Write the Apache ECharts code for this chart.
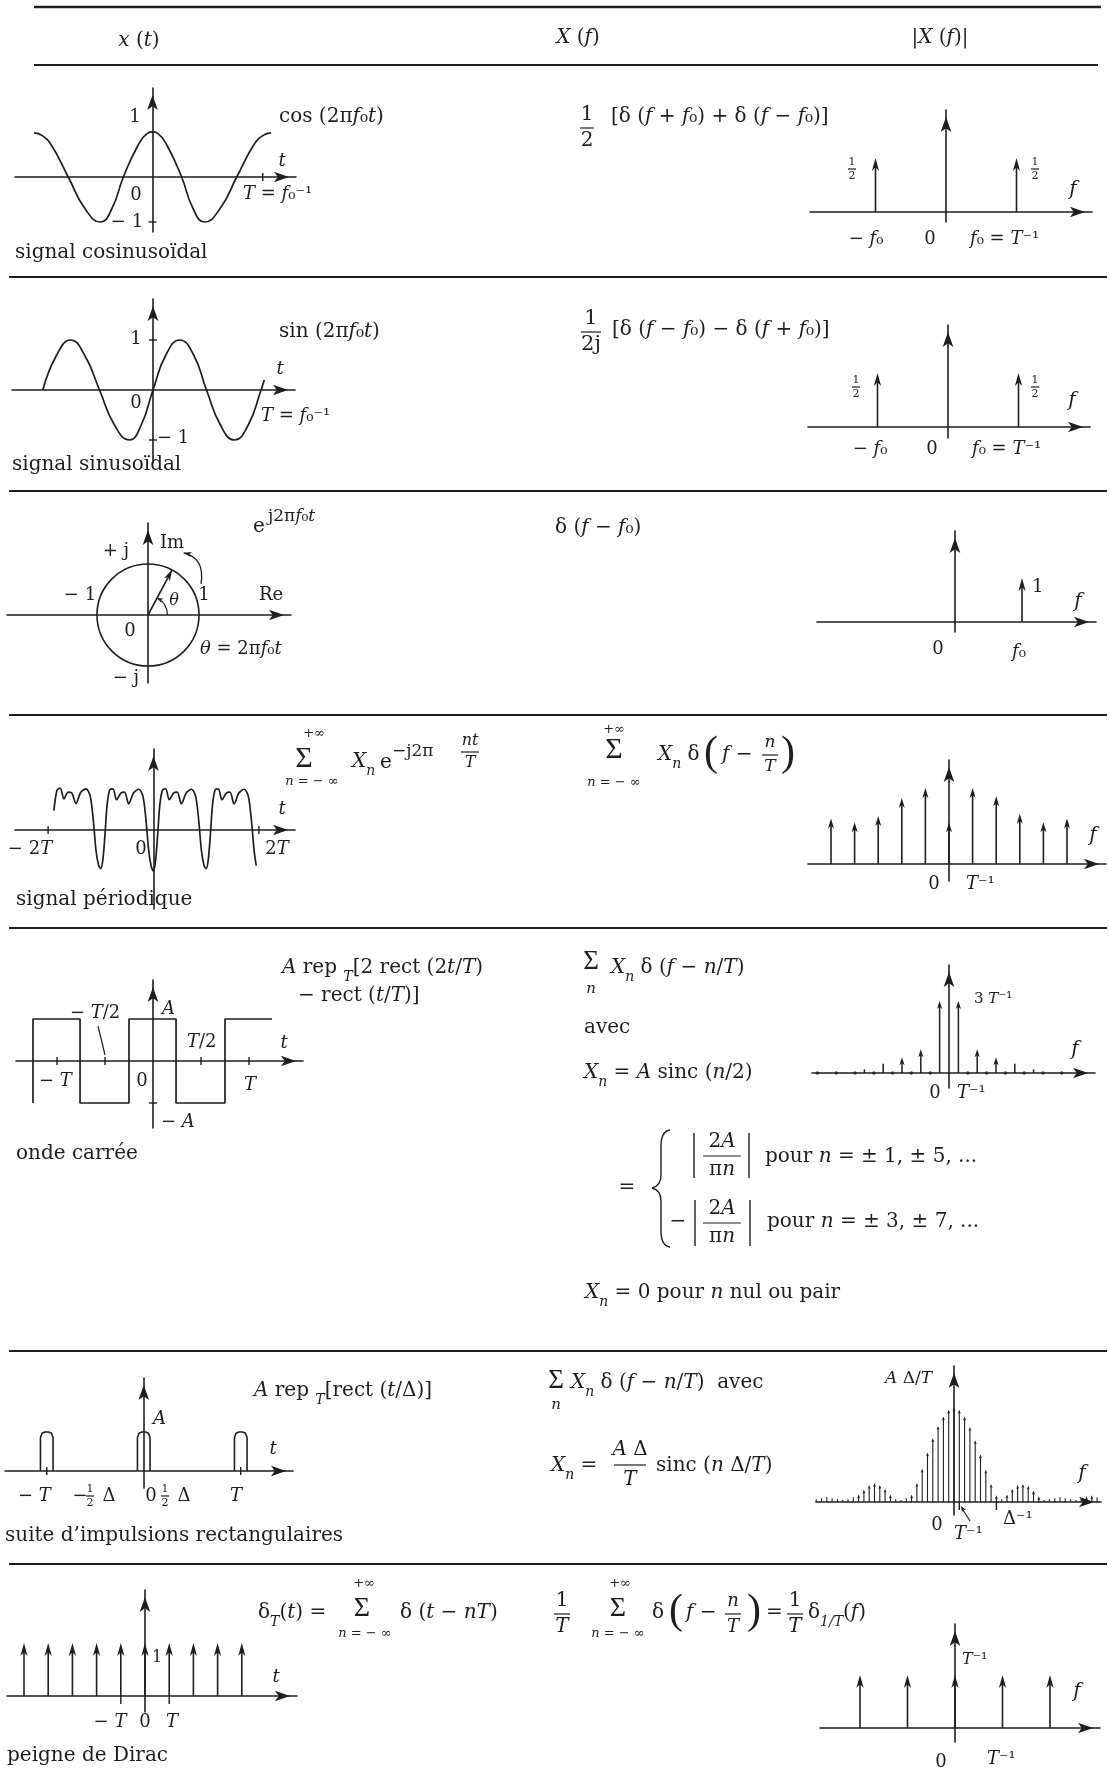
<!DOCTYPE html>
<html>
<head>
<meta charset="utf-8">
<title>Transformées de Fourier usuelles</title>
<script src="https://cdn.jsdelivr.net/npm/echarts@6/dist/echarts.min.js"></script>
<style>
  html, body { margin: 0; padding: 0; background: #fff; }
  #main { width: 1109px; height: 1771px; }
</style>
</head>
<body>
<div id="main"></div>
<script>
var INK = '#1e1e1e';
var FONT = 'DejaVu Serif';

// ---- values read off the table (time in periods T, frequency in steps of 1/T) ----
// row 1 : cosinus
var cosT = [-1.14, -1.06, -0.97, -0.81, -0.65, -0.5, -0.39, -0.28, -0.14, -0.05, 0, 0.05, 0.14, 0.28, 0.39, 0.5, 0.65, 0.81, 0.97, 1.06, 1.14];
var cosV = [0.98, 0.92, 0.7, 0, -0.7, -1, -0.7, 0, 0.7, 0.97, 1, 0.97, 0.7, 0, -0.7, -1, -0.7, 0, 0.7, 0.92, 0.98];
var cosXTicks = [1.06];
var cosYTicks = [1, -1];
var cosSpecF = [-1, 1];
var cosSpecH = [0.5, 0.5];

// row 2 : sinus
var sinT = [-1.03, -0.9, -0.77, -0.64, -0.5, -0.36, -0.22, -0.11, 0, 0.12, 0.25, 0.38, 0.5, 0.63, 0.76, 0.89, 1.01, 1.04];
var sinV = [0, 0.7, 1, 0.7, 0, -0.7, -1, -0.7, 0, 0.7, 1, 0.7, 0, -0.7, -1, -0.7, 0, 0.2];
var sinYTicks = [1, -1];
var sinSpecF = [-1, 1];
var sinSpecH = [0.5, 0.5];

// row 3 : exponentielle complexe
var circleR = 1;
var phasorTip = [0.47, 0.88];
var thetaArcR = 0.38;
var rotArrow = [[0.7, 1.22], [1.12, 1.12], [1.04, 0.61]];
var expSpecF = [1];
var expSpecH = [1];

// row 4 : signal periodique
var perT = [-1.89, -1.83, -1.77, -1.70, -1.62, -1.55, -1.47, -1.38, -1.28, -1.20, -1.14, -1.09, -1.04, -1.00,
  -0.96, -0.92, -0.88, -0.83, -0.77, -0.70, -0.62, -0.55, -0.47, -0.38, -0.28, -0.20, -0.14, -0.09, -0.04, 0.00,
  0.04, 0.08, 0.12, 0.17, 0.23, 0.30, 0.38, 0.45, 0.53, 0.62, 0.72, 0.80, 0.86, 0.91, 0.96, 1.00,
  1.04, 1.08, 1.12, 1.17, 1.23, 1.30, 1.38, 1.45, 1.53, 1.62, 1.72, 1.80, 1.86, 1.91, 1.95];
var perV = [0.46, 0.95, 1.0, 0.74, 0.9, 0.88, 0.63, 0.9, 0.98, 0.8, 0.2, -0.5, -0.85, -0.92,
  -0.7, -0.1, 0.6, 0.96, 0.98, 0.72, 0.88, 0.9, 0.62, 0.88, 0.97, 0.8, 0.2, -0.5, -0.88, -0.98,
  -0.72, -0.1, 0.6, 0.95, 0.98, 0.72, 0.88, 0.9, 0.62, 0.88, 0.97, 0.8, 0.2, -0.5, -0.85, -0.92,
  -0.7, -0.1, 0.6, 0.96, 0.98, 0.72, 0.88, 0.9, 0.62, 0.88, 0.97, 0.8, 0.2, -0.5, -0.85];
var perXTicks = [-2, 2];
var perSpecN = [-5, -4, -3, -2, -1, 0, 1, 2, 3, 4, 5];
var perSpecH = [0.6, 0.55, 0.63, 0.87, 1.0, 0.55, 1.0, 0.89, 0.66, 0.55, 0.6];

// row 5 : onde carree
var sqT = [-1.25, -1.25, -0.76, -0.76, -0.25, -0.25, 0.24, 0.24, 0.75, 0.75, 1.24];
var sqV = [-1, 1, 1, -1, -1, 1, 1, -1, -1, 1, 1];
var sqXTicks = [-1, -0.5, 0.5, 1];
var sqYTicks = [-1];
var sqSpecN = [-9, -7, -5, -3, -1, 1, 3, 5, 7, 9];
var sqSpecH = [0.05, 0.13, 0.22, 0.33, 1, 1, 0.33, 0.22, 0.13, 0.05];
var sqZeroN = [-14, -12, -10, -8, -6, -4, -2, 2, 4, 6, 8, 10, 12, 14];

// row 6 : suite d'impulsions rectangulaires
var pulseC = [-1, 0, 1];
var pulseHalf = 0.065;
var pulseXTicks = [-1, 1];
var rectSpecN = [-26, -25, -24, -23, -22, -21, -20, -19, -18, -17, -16, -15, -14, -13, -12, -11, -10, -9, -8, -7, -6, -5, -4, -3, -2, -1,
  0, 1, 2, 3, 4, 5, 6, 7, 8, 9, 10, 11, 12, 13, 14, 15, 16, 17, 18, 19, 20, 21, 22, 23, 24, 25, 26, 27];
var rectSpecH = [0.03, 0.04, 0.05, 0.04, 0.03, 0.02, 0.03, 0.05, 0.08, 0.13, 0.18, 0.2, 0.18, 0.14, 0.08, 0.03, 0.02, 0.04, 0.08, 0.2, 0.35, 0.52, 0.67, 0.8, 0.9, 0.97,
  1, 0.97, 0.9, 0.79, 0.65, 0.5, 0.34, 0.19, 0.07, 0.03, 0.08, 0.14, 0.18, 0.19, 0.17, 0.12, 0.06, 0.02, 0.03, 0.04, 0.05, 0.04, 0.03, 0.02, 0.04, 0.06, 0.07, 0.05];
var rectSpecTicks = [1, 8];

// row 7 : peigne de Dirac
var combT = [-5, -4, -3, -2, -1, 0, 1, 2, 3, 4];
var combH = [1, 1, 1, 1, 1, 1, 1, 1, 1, 1];
var combXTicks = [-1, 1];
var combSpecF = [-2, -1, 0, 1, 2];
var combSpecH = [1, 1, 1, 1, 1];

// ---- plots ----
var grids = [], xAxes = [], yAxes = [], series = [];

function axisLine() {
  return { onZero: true, symbol: ['none', 'arrow'], symbolSize: [8, 15], symbolOffset: [0, -7], lineStyle: { color: INK, width: 1.6 } };
}
// box = [left, top, right, bottom] in px, origin = px of (0,0), unit = px per data unit
function addPlot(box, origin, unit) {
  var i = grids.length;
  grids.push({ left: box[0], top: box[1], width: box[2] - box[0], height: box[3] - box[1], containLabel: false, outerBoundsMode: 'none' });
  xAxes.push({ type: 'value', gridIndex: i, min: (box[0] - origin[0]) / unit[0], max: (box[2] - origin[0]) / unit[0],
    axisLine: axisLine(), axisTick: { show: false }, axisLabel: { show: false }, splitLine: { show: false } });
  yAxes.push({ type: 'value', gridIndex: i, min: (origin[1] - box[3]) / unit[1], max: (origin[1] - box[1]) / unit[1],
    axisLine: axisLine(), axisTick: { show: false }, axisLabel: { show: false }, splitLine: { show: false } });
  return i;
}

function dart(tip, from, len, half) {
  var dx = tip[0] - from[0], dy = tip[1] - from[1];
  var d = Math.sqrt(dx * dx + dy * dy) || 1;
  var ux = dx / d, uy = dy / d, nx = -uy, ny = ux;
  var bx = tip[0] - ux * len, by = tip[1] - uy * len;
  return { type: 'polygon', shape: { points: [tip, [bx + nx * half, by + ny * half], [tip[0] - ux * len * 0.72, tip[1] - uy * len * 0.72], [bx - nx * half, by - ny * half]] }, style: { fill: INK } };
}

function curve(g, xs, ys, smooth) {
  series.push({ type: 'line', xAxisIndex: g, yAxisIndex: g, silent: true, showSymbol: false, smooth: smooth, z: 3,
    data: xs.map(function (x, k) { return [x, ys[k]]; }),
    lineStyle: { color: INK, width: 1.7 } });
}

function stems(g, xs, hs, st) {
  series.push({ type: 'custom', xAxisIndex: g, yAxisIndex: g, silent: true, clip: false, z: 4,
    data: xs.map(function (x, k) { return [x, hs[k]]; }),
    renderItem: function (params, api) {
      var p0 = api.coord([api.value(0), 0]);
      var p1 = api.coord([api.value(0), api.value(1)]);
      var withHead = st.len && (p0[1] - p1[1]) > st.len * 1.3;
      var kids = [{ type: 'line', shape: { x1: p0[0], y1: p0[1], x2: p1[0], y2: p1[1] + (withHead ? st.len * 0.5 : 0) },
        style: { stroke: INK, lineWidth: st.w || 1.6 } }];
      if (withHead) kids.push(dart(p1, [p1[0], p1[1] + 10], st.len, st.half));
      return { type: 'group', children: kids };
    } });
}

function ticks(g, xs, ys, down) {
  var data = [];
  xs.forEach(function (x) { data.push([x, 0, 0]); });
  ys.forEach(function (y) { data.push([0, y, 1]); });
  series.push({ type: 'custom', xAxisIndex: g, yAxisIndex: g, silent: true, clip: false, z: 4, data: data,
    renderItem: function (params, api) {
      var p = api.coord([api.value(0), api.value(1)]);
      var sh = api.value(2) === 0
        ? { x1: p[0], y1: p[1] - (down ? 0 : 4), x2: p[0], y2: p[1] + (down ? 8 : 4) }
        : { x1: p[0] - 4, y1: p[1], x2: p[0] + 4, y2: p[1] };
      return { type: 'line', shape: sh, style: { stroke: INK, lineWidth: 1.4 } };
    } });
}

var headBig = { w: 1.6, len: 13, half: 3.6 };
var headMid = { w: 1.6, len: 10, half: 3 };

// row 1
var g0 = addPlot([15, 88, 296, 232], [152.5, 177], [104, 45]);
curve(g0, cosT, cosV, 0.5);
ticks(g0, cosXTicks, cosYTicks);
var g1 = addPlot([810, 110, 1092, 222], [946, 212], [70.5, 108]);
stems(g1, cosSpecF, cosSpecH, headBig);

// row 2
var g2 = addPlot([12, 299, 295, 463], [153, 390], [107, 50]);
curve(g2, sinT, sinV, 0.5);
ticks(g2, [], sinYTicks);
var g3 = addPlot([808, 325, 1090, 438], [948, 427], [70.5, 108]);
stems(g3, sinSpecF, sinSpecH, headBig);

// row 3
var g4 = addPlot([7, 523, 291, 683], [148, 615], [51, 51]);
series.push({ type: 'custom', xAxisIndex: g4, yAxisIndex: g4, silent: true, clip: false, z: 4, data: [[0, 0]],
  renderItem: function (params, api) {
    var c = api.coord([0, 0]);
    var r = api.size([circleR, 0])[0];
    var tip = api.coord(phasorTip);
    var ar = api.size([thetaArcR, 0])[0];
    var ang = Math.atan2(c[1] - tip[1], tip[0] - c[0]);
    var ae = [c[0] + ar * Math.cos(ang), c[1] - ar * Math.sin(ang)];
    var aFrom = [ae[0] + 6 * Math.sin(ang), ae[1] + 6 * Math.cos(ang)];
    var a0 = api.coord(rotArrow[0]), a1 = api.coord(rotArrow[1]), a2 = api.coord(rotArrow[2]);
    return { type: 'group', children: [
      { type: 'circle', shape: { cx: c[0], cy: c[1], r: r }, style: { fill: 'none', stroke: INK, lineWidth: 1.6 } },
      { type: 'line', shape: { x1: c[0], y1: c[1], x2: tip[0], y2: tip[1] }, style: { stroke: INK, lineWidth: 1.6 } },
      dart(tip, c, 11, 3.4),
      { type: 'arc', shape: { cx: c[0], cy: c[1], r: ar, startAngle: -ang, endAngle: 0, clockwise: true }, style: { fill: 'none', stroke: INK, lineWidth: 1.2 } },
      dart(ae, aFrom, 6, 2.4),
      { type: 'bezierCurve', shape: { x1: a2[0], y1: a2[1], cpx1: a1[0], cpy1: a1[1], x2: a0[0], y2: a0[1] }, style: { fill: 'none', stroke: INK, lineWidth: 1.3 } },
      dart(a0, a1, 8, 2.6)
    ] };
  } });
var g5 = addPlot([817, 531, 1096, 632], [955, 622], [67, 44]);
stems(g5, expSpecF, expSpecH, headBig);

// row 4
var g6 = addPlot([15, 749, 295, 909], [153.5, 830], [52.7, 42]);
curve(g6, perT, perV, 0.3);
ticks(g6, perXTicks, []);
var g7 = addPlot([808, 760, 1106, 881], [949, 864], [23.6, 76]);
stems(g7, perSpecN, perSpecH, headMid);

// row 5
var g8 = addPlot([16, 980, 303, 1128], [153, 1061], [96, 42]);
curve(g8, sqT, sqV, false);
ticks(g8, sqXTicks, sqYTicks);
var g9 = addPlot([812, 965, 1095, 1088], [949, 1073], [9.4, 72]);
stems(g9, sqSpecN, sqSpecH, { w: 1.5, len: 8, half: 2.6 });
series.push({ type: 'scatter', xAxisIndex: g9, yAxisIndex: g9, silent: true, symbolSize: 3.5, itemStyle: { color: INK },
  data: sqZeroN.map(function (n) { return [n, 0]; }) });

// row 6
var g10 = addPlot([5, 1378, 293, 1488], [143.75, 1471], [97, 39]);
pulseC.forEach(function (c) {
  var w = pulseHalf;
  series.push({ type: 'line', xAxisIndex: g10, yAxisIndex: g10, silent: true, showSymbol: false, z: 3,
    data: [[c - w, 0], [c - w, 0.86], [c - w * 0.75, 0.97], [c - w * 0.3, 1], [c + w * 0.3, 1], [c + w * 0.75, 0.97], [c + w, 0.86], [c + w, 0]],
    lineStyle: { color: INK, width: 1.6 } });
});
ticks(g10, pulseXTicks, []);
var g11 = addPlot([816, 1366, 1101, 1515], [954, 1502], [5.3, 95]);
stems(g11, rectSpecN, rectSpecH, { w: 1.1, len: 4, half: 1.5 });
ticks(g11, rectSpecTicks, [], true);

// row 7
var g12 = addPlot([7, 1590, 297, 1712], [145, 1696], [24.2, 53]);
stems(g12, combT, combH, headBig);
ticks(g12, combXTicks, [], true);
var g13 = addPlot([820, 1624, 1100, 1742], [955, 1728], [47.5, 53]);
stems(g13, combSpecF, combSpecH, headBig);

// ---- rules and typeset text ----
var G = [];
function seg(x1, y1, x2, y2, w) {
  G.push({ type: 'line', silent: true, shape: { x1: x1, y1: y1, x2: x2, y2: y2 }, style: { stroke: INK, lineWidth: w || 1.3 } });
}
function rule(x1, x2, y, w) { seg(x1, y, x2, y, w); }
function rich(size) {
  var s = Math.round(size * 0.68);
  return {
    i: { fontFamily: FONT, fontSize: size, fontStyle: 'italic', fill: INK },
    b: { fontFamily: FONT, fontSize: s, lineHeight: s, fontStyle: 'italic', fill: INK, verticalAlign: 'bottom' },
    p: { fontFamily: FONT, fontSize: s, lineHeight: s, fill: INK, verticalAlign: 'top' },
    q: { fontFamily: FONT, fontSize: s, lineHeight: s, fontStyle: 'italic', fill: INK, verticalAlign: 'top' }
  };
}
function T(x, y, s, size, align, family) {
  size = size || 20;
  G.push({ type: 'text', silent: true, x: x, y: y, z: 10,
    style: { text: s, fontFamily: family || FONT, fontSize: size, lineHeight: Math.round(size * 1.6), fill: INK,
      align: align || 'left', verticalAlign: 'middle', textAlign: align || 'left', textVerticalAlign: 'middle', rich: rich(size) } });
}
function F(cx, cy, a, b, size, half, gap) {
  T(cx, cy - gap, a, size, 'center');
  T(cx, cy + gap, b, size, 'center');
  seg(cx - half, cy, cx + half, cy, 1.2);
}
function P(x, y, ch, size) { T(x, y, ch, size || 42, 'center', 'Liberation Serif'); }
function S(x, y, size) { T(x, y, 'Σ', size || 30, 'center', 'Liberation Serif'); }

rule(34, 1101, 7, 2.4);
rule(34, 1098, 65, 2);
[277, 491, 715, 928, 1351, 1564].forEach(function (y) { rule(9, 1107, y, 1.8); });

// header
T(139, 41, '{i|x} ({i|t})', 20, 'center');
T(578, 38, '{i|X} ({i|f})', 20, 'center');
T(940, 38, '|{i|X} ({i|f})|', 20, 'center');

// row 1
T(135, 117, '1', 18, 'center');
T(136, 195, '0', 18, 'center');
T(127, 222, '− 1', 18, 'center');
T(279, 117, 'cos (2π{i|f}₀{i|t})', 20);
T(282, 161, '{i|t}', 18, 'center');
T(243, 194, '{i|T} = {i|f}₀⁻¹', 18);
T(15, 253, 'signal cosinusoïdal', 20);
F(587, 128, '1', '2', 20, 7, 13);
T(611, 117, '[δ ({i|f} + {i|f}₀) + δ ({i|f} − {i|f}₀)]', 20);
F(852, 169, '1', '2', 11, 4, 7);
F(1035, 169, '1', '2', 11, 4, 7);
T(1073, 190, '{i|f}', 20, 'center');
T(866, 239, '− {i|f}₀', 18, 'center');
T(930, 239, '0', 18, 'center');
T(970, 239, '{i|f}₀ = {i|T}⁻¹', 18);

// row 2
T(136, 339, '1', 18, 'center');
T(136, 403, '0', 18, 'center');
T(157, 438, '− 1', 18);
T(279, 332, 'sin (2π{i|f}₀{i|t})', 20);
T(280, 369, '{i|t}', 18, 'center');
T(261, 416, '{i|T} = {i|f}₀⁻¹', 18);
T(12, 465, 'signal sinusoïdal', 20);
F(591, 332, '1', '2j', 21, 10, 13);
T(612, 330, '[δ ({i|f} − {i|f}₀) − δ ({i|f} + {i|f}₀)]', 20);
F(856, 387, '1', '2', 11, 4, 7);
F(1035, 387, '1', '2', 11, 4, 7);
T(1072, 401, '{i|f}', 20, 'center');
T(870, 449, '− {i|f}₀', 18, 'center');
T(932, 449, '0', 18, 'center');
T(972, 449, '{i|f}₀ = {i|T}⁻¹', 18);

// row 3
T(259, 527, 'e', 20, 'center');
T(268, 517, 'j2π{i|f}₀{i|t}', 17);
T(116, 551, '+ j', 18, 'center');
T(160, 543, 'Im', 18);
T(80, 595, '− 1', 18, 'center');
T(204, 595, '1', 18, 'center');
T(271, 595, 'Re', 18, 'center');
T(130, 631, '0', 18, 'center');
T(174, 601, '{i|θ}', 16, 'center');
T(200, 649, '{i|θ} = 2π{i|f}₀{i|t}', 18);
T(126, 678, '− j', 18, 'center');
T(555, 528, 'δ ({i|f} − {i|f}₀)', 20);
T(1032, 587, '1', 18);
T(1078, 602, '{i|f}', 20, 'center');
T(938, 649, '0', 18, 'center');
T(1019, 652, '{i|f}₀', 18, 'center');

// row 4
S(304, 759);
T(314, 734, '+∞', 13, 'center');
T(312, 782, '{i|n} = − ∞', 13, 'center');
T(352, 762, '{i|X}{b|n}', 20);
T(380, 763, 'e', 20);
T(392, 752, '−j2π', 17);
F(470, 752, '{i|nt}', '{i|T}', 16, 9, 11);
T(282, 809, '{i|t}', 18, 'center');
T(30, 849, '− 2{i|T}', 18, 'center');
T(141, 849, '0', 18, 'center');
T(277, 849, '2{i|T}', 18, 'center');
T(16, 900, 'signal périodique', 20);
S(614, 750);
T(614, 730, '+∞', 13, 'center');
T(614, 783, '{i|n} = − ∞', 13, 'center');
T(658, 755, '{i|X}{b|n} δ', 20);
P(711, 754, '(');
T(722, 755, '{i|f} −', 20);
F(770, 755, '{i|n}', '{i|T}', 17, 8, 12);
P(788, 754, ')');
T(1093, 836, '{i|f}', 20, 'center');
T(934, 884, '0', 18, 'center');
T(966, 884, '{i|T}⁻¹', 18);

// row 5
T(282, 968, '{i|A} rep {b|T}[2 rect (2{i|t}/{i|T})', 20);
T(298, 996, '− rect ({i|t}/{i|T})]', 20);
T(70, 1013, '− {i|T}/2', 18);
seg(98, 1026, 105, 1055, 1.2);
T(162, 1009, '{i|A}', 18);
T(187, 1042, '{i|T}/2', 18);
T(284, 1043, '{i|t}', 18, 'center');
T(39, 1081, '− {i|T}', 18);
T(142, 1081, '0', 18, 'center');
T(250, 1085, '{i|T}', 18, 'center');
T(161, 1122, '− {i|A}', 18);
T(16, 1154, 'onde carrée', 20);
S(591, 962, 27);
T(591, 989, '{i|n}', 15, 'center');
T(611, 968, '{i|X}{b|n} δ ({i|f} − {i|n}/{i|T})', 20);
T(584, 1028, 'avec', 20);
T(584, 1073, '{i|X}{b|n} = {i|A} sinc ({i|n}/2)', 20);
T(974, 999, '3 {i|T}⁻¹', 15);
T(1075, 1050, '{i|f}', 20, 'center');
T(935, 1093, '0', 18, 'center');
T(957, 1093, '{i|T}⁻¹', 18);
T(627, 1188, '=', 20, 'center');
function bez(x1, y1, c1x, c1y, c2x, c2y, x2, y2) {
  G.push({ type: 'bezierCurve', silent: true, shape: { x1: x1, y1: y1, cpx1: c1x, cpy1: c1y, cpx2: c2x, cpy2: c2y, x2: x2, y2: y2 }, style: { stroke: INK, lineWidth: 1.4, fill: 'none' } });
}
bez(670, 1130, 663, 1131, 661, 1137, 661, 1146);
seg(661, 1146, 661, 1175, 1.4);
bez(661, 1175, 661, 1184, 656, 1187, 652, 1188);
bez(652, 1188, 656, 1189, 661, 1192, 661, 1201);
seg(661, 1201, 661, 1231, 1.4);
bez(661, 1231, 661, 1240, 663, 1246, 670, 1247);
seg(694, 1133, 694, 1178, 1.4);
seg(749, 1133, 749, 1178, 1.4);
F(722, 1156, '2{i|A}', 'π{i|n}', 20, 19, 14);
T(765, 1157, 'pour {i|n} = ± 1, ± 5, ...', 20);
T(678, 1222, '−', 20, 'center');
seg(695, 1200, 695, 1246, 1.4);
seg(750, 1200, 750, 1246, 1.4);
F(722, 1223, '2{i|A}', 'π{i|n}', 20, 19, 14);
T(767, 1222, 'pour {i|n} = ± 3, ± 7, ...', 20);
T(585, 1293, '{i|X}{b|n} = 0 pour {i|n} nul ou pair', 20);

// row 6
T(254, 1391, '{i|A} rep {b|T}[rect ({i|t}/Δ)]', 20);
T(153, 1419, '{i|A}', 18);
T(273, 1449, '{i|t}', 18, 'center');
T(18, 1496, '− {i|T}', 18);
T(80, 1496, '−', 18, 'center');
F(90, 1496, '1', '2', 11, 4, 7);
T(109, 1496, 'Δ', 18, 'center');
T(151, 1496, '0', 18, 'center');
F(165, 1496, '1', '2', 11, 4, 7);
T(184, 1496, 'Δ', 18, 'center');
T(236, 1496, '{i|T}', 18, 'center');
T(5, 1536, 'suite d\u2019impulsions rectangulaires', 20);
S(556, 1381, 27);
T(556, 1405, '{i|n}', 15, 'center');
T(571, 1383, '{i|X}{b|n} δ ({i|f} − {i|n}/{i|T})  avec', 20);
T(551, 1466, '{i|X}{b|n} =', 20);
F(630, 1465, '{i|A} Δ', '{i|T}', 20, 16, 15);
T(656, 1466, 'sinc ({i|n} Δ/{i|T})', 20);
T(885, 1379, '{i|A} Δ/{i|T}', 17);
T(1082, 1474, '{i|f}', 20, 'center');
T(937, 1525, '0', 18, 'center');
T(954, 1534, '{i|T}⁻¹', 18);
seg(970, 1521, 963, 1510, 1.2);
G.push(dart([961, 1506], [970, 1521], 6, 2.4));
T(1003, 1519, 'Δ⁻¹', 18);

// row 7
T(258, 1613, 'δ{b|T}({i|t}) =', 20);
S(362, 1609, 28);
T(364, 1584, '+∞', 13, 'center');
T(365, 1634, '{i|n} = − ∞', 13, 'center');
T(400, 1613, 'δ ({i|t} − {i|n}{i|T})', 20);
F(562, 1614, '1', '{i|T}', 20, 8, 13);
S(618, 1609, 28);
T(620, 1584, '+∞', 13, 'center');
T(618, 1634, '{i|n} = − ∞', 13, 'center');
T(652, 1613, 'δ', 20);
P(676, 1612, '(');
T(686, 1613, '{i|f} −', 20);
F(733, 1614, '{i|n}', '{i|T}', 18, 8, 13);
P(754, 1612, ')');
T(766, 1613, '=', 20);
F(795, 1614, '1', '{i|T}', 20, 8, 13);
T(808, 1613, 'δ{b|1/T}({i|f})', 20);
T(152, 1658, '1', 16);
T(276, 1677, '{i|t}', 18, 'center');
T(110, 1722, '− {i|T}', 18, 'center');
T(145, 1722, '0', 18, 'center');
T(172, 1722, '{i|T}', 18, 'center');
T(7, 1756, 'peigne de Dirac', 20);
T(962, 1660, '{i|T}⁻¹', 16);
T(1077, 1692, '{i|f}', 20, 'center');
T(941, 1762, '0', 18, 'center');
T(987, 1759, '{i|T}⁻¹', 18);

var chart = echarts.init(document.getElementById('main'), null, { renderer: 'canvas' });
chart.setOption({
  animation: false,
  backgroundColor: '#ffffff',
  grid: grids,
  xAxis: xAxes,
  yAxis: yAxes,
  series: series,
  graphic: { elements: G }
});
</script>
</body>
</html>
